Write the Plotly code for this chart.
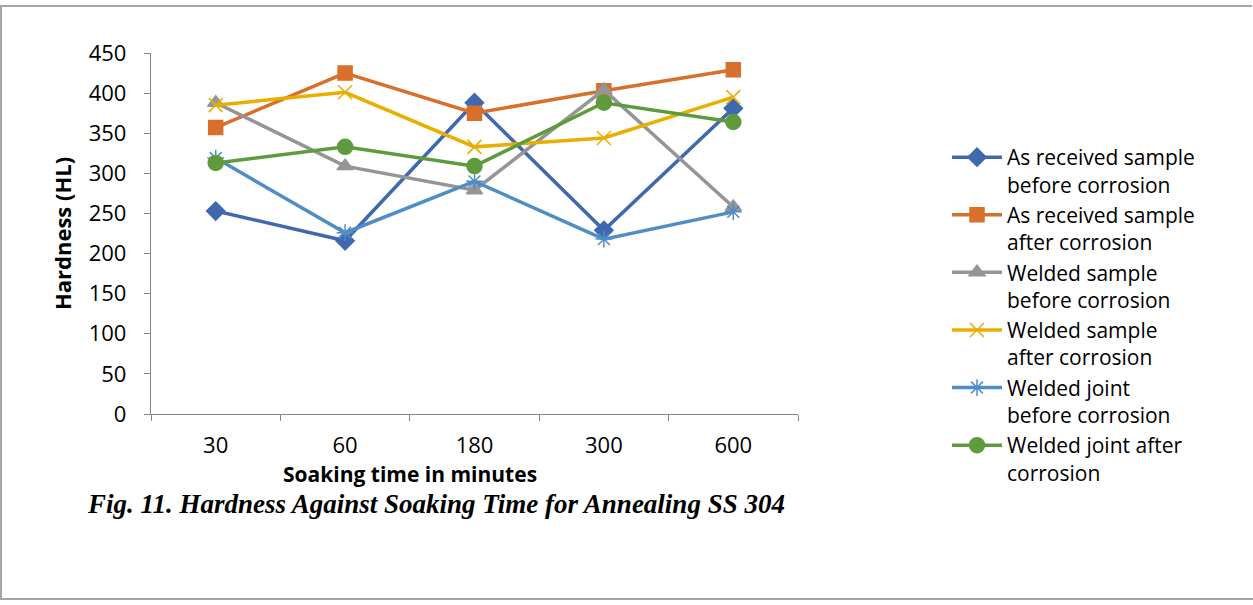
import plotly.graph_objects as go

W, H = 1253, 605

categories = ["30", "60", "180", "300", "600"]
y_ticks = [0, 50, 100, 150, 200, 250, 300, 350, 400, 450]

as_received_before = [253, 216, 388, 229, 381]
as_received_after = [357, 425, 375, 403, 429]
welded_sample_before = [388, 309, 279, 404, 258]
welded_sample_after = [385, 401, 333, 344, 395]
welded_joint_before = [319, 226, 290, 218, 252]
welded_joint_after = [313, 333, 309, 388, 364]

series_names = [
    "As received sample<br>before corrosion",
    "As received sample<br>after corrosion",
    "Welded sample<br>before corrosion",
    "Welded sample<br>after corrosion",
    "Welded joint<br>before corrosion",
    "Welded joint after<br>corrosion",
]
series_values = [as_received_before, as_received_after, welded_sample_before,
                 welded_sample_after, welded_joint_before, welded_joint_after]
colors = ["#3F68B0", "#D86F2B", "#959595", "#E8AE00", "#4F8DC6", "#5F9B3C"]
symbols = ["diamond", "square", "triangle-up", "x-thin-open", "asterisk-open", "circle"]
sizes = [14, 14, 14, 14, 14, 15]

fig = go.Figure()
for name, vals, c, s, sz in zip(series_names, series_values, colors, symbols, sizes):
    fig.add_trace(go.Scatter(
        x=categories, y=vals, name=name, mode="lines+markers",
        line=dict(color=c, width=3.5),
        marker=dict(symbol=s, size=sz, color=c, line=dict(color=c, width=1.5)),
    ))

def px_x(v):
    return v / W

def px_y(v):
    return 1 - v / H

axis_color = "#868686"
fig.update_layout(
    width=W, height=H,
    margin=dict(l=0, r=0, t=0, b=0, autoexpand=False),
    paper_bgcolor="white", plot_bgcolor="white",
    font=dict(family="Open Sans", color="#000000"),
    xaxis=dict(
        domain=[px_x(151), px_x(798)], type="category", range=[-0.5, 4.5],
        showline=True, linecolor=axis_color, linewidth=1.3,
        ticks="outside", tickson="boundaries", ticklen=6, tickcolor=axis_color,
        showgrid=False, zeroline=False, automargin=False,
        tickfont=dict(size=22, family="Open Sans"), ticklabelstandoff=11,
    ),
    yaxis=dict(
        domain=[px_y(414), px_y(53)], range=[0, 450],
        tickvals=y_ticks, ticktext=[str(v) for v in y_ticks],
        showline=True, linecolor=axis_color, linewidth=1.3,
        ticks="outside", ticklen=6, tickcolor=axis_color,
        showgrid=False, zeroline=False, automargin=False,
        tickfont=dict(size=22, family="Open Sans"), ticklabelstandoff=13,
        title=dict(text="<b>Hardness (HL)</b>", font=dict(size=22, family="Open Sans"), standoff=11),
    ),
    legend=dict(
        x=px_x(947), y=px_y(137), xanchor="left", yanchor="top",
        font=dict(size=21, family="Open Sans", color="#000000"),
        valign="top", itemwidth=50, tracegroupgap=0,
        bgcolor="rgba(0,0,0,0)",
    ),
    showlegend=True,
)

fig.add_annotation(
    text="<b>Soaking time in minutes</b>",
    xref="paper", yref="paper", x=px_x(410), y=px_y(474),
    xanchor="center", yanchor="middle", showarrow=False,
    font=dict(family="Open Sans", size=21, color="#000000"),
)

fig.add_annotation(
    text="<b><i>Fig. 11. Hardness Against Soaking Time for Annealing SS 304</i></b>",
    xref="paper", yref="paper", x=px_x(85), y=px_y(504),
    xanchor="left", yanchor="middle", showarrow=False,
    font=dict(family="Liberation Serif", size=27, color="#000000"),
)

frame = "#A6A6A6"
fig.add_shape(type="line", xref="paper", yref="paper", x0=0, x1=px_x(1252), y0=px_y(6), y1=px_y(6),
              line=dict(color=frame, width=2))
fig.add_shape(type="line", xref="paper", yref="paper", x0=px_x(1), x1=px_x(1), y0=px_y(6), y1=px_y(599),
              line=dict(color=frame, width=2))
fig.add_shape(type="line", xref="paper", yref="paper", x0=0, x1=1, y0=px_y(599), y1=px_y(599),
              line=dict(color=frame, width=2))

fig.write_html("out.html", config={"displayModeBar": False},
               post_script="document.body.style.margin='0';")
